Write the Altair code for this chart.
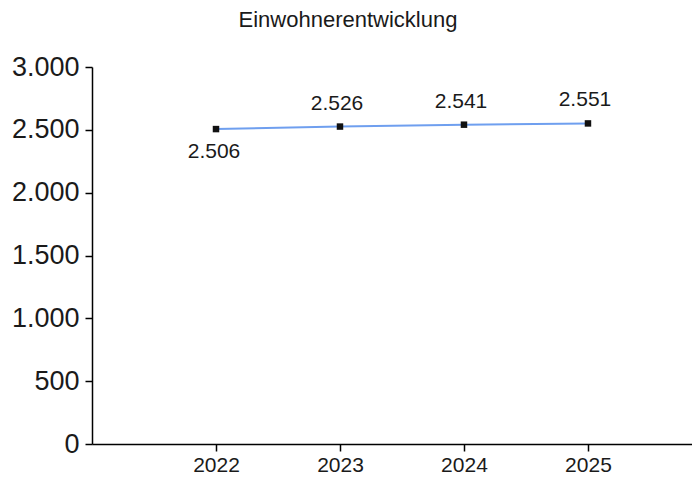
import altair as alt
import pandas as pd

years = [2022, 2023, 2024, 2025]
population = [2506, 2526, 2541, 2551]
label_below = [True, False, False, False]

df = pd.DataFrame({"year": years, "pop": population, "below": label_below})

FONT = "Liberation Sans"
x_scale = alt.Scale(domain=[2021, 2025.839], nice=False, zero=False)
y_scale = alt.Scale(domain=[0, 3000], nice=False)

base = alt.Chart(df).encode(
    x=alt.X("year:Q", scale=x_scale,
            axis=alt.Axis(values=years, format="d", title=None, grid=False,
                          labelFontSize=21, labelFont=FONT, labelColor="#1a1a1a",
                          tickSize=7, tickColor="#000", domainColor="#000",
                          domainWidth=1.5, tickWidth=1.5, labelPadding=3,
                          labelFlush=False)),
    y=alt.Y("pop:Q", scale=y_scale,
            axis=alt.Axis(values=[0, 500, 1000, 1500, 2000, 2500, 3000],
                          labelExpr="replace(format(datum.value, ','), ',', '.')",
                          title=None, grid=False, labelFontSize=27, labelFont=FONT,
                          labelColor="#1a1a1a", tickSize=7, tickColor="#000",
                          domainColor="#000", domainWidth=1.5, tickWidth=1.5,
                          labelPadding=6)),
)

line = base.mark_line(color="#6f9fef", strokeWidth=2)
points = base.mark_point(shape="square", filled=True, color="#111", size=42, opacity=1)

lbl = base.transform_calculate(
    lab="replace(format(datum.pop, ','), ',', '.')"
)
text_above = lbl.transform_filter("!datum.below").mark_text(
    font=FONT, fontSize=21, color="#1a1a1a", dy=-13, baseline="bottom", dx=-3
).encode(text="lab:N")
text_below = lbl.transform_filter("datum.below").mark_text(
    font=FONT, fontSize=21, color="#1a1a1a", dy=12, baseline="top", dx=-2
).encode(text="lab:N")

chart = alt.layer(line, points, text_above, text_below).properties(
    width=600,
    height=377,
    title=alt.TitleParams("Einwohnerentwicklung", anchor="middle", frame="group",
                          dx=-44, fontSize=22, font=FONT, fontWeight="normal",
                          color="#1a1a1a", offset=21),
    autosize=alt.AutoSizeParams(type="none"),
    padding={"left": 84, "top": 59, "right": 0, "bottom": 30},
).configure(background="white").configure_view(stroke=None, strokeWidth=0)

chart.save("out.html", embed_options={"renderer": "svg", "actions": False})
